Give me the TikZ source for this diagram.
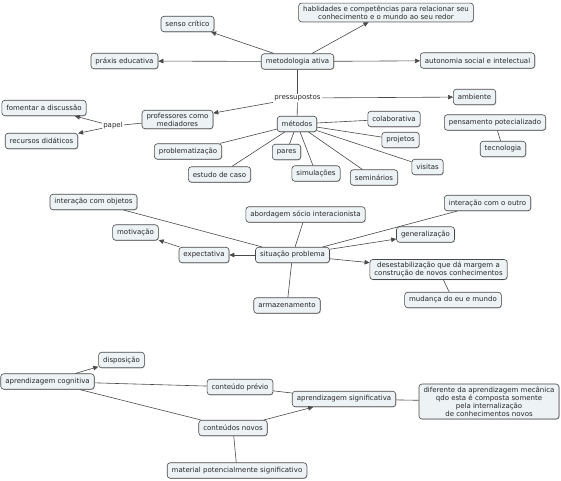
\documentclass[tikz,border=0pt]{standalone}
\usepackage{fontspec}
\setmainfont{DejaVu Sans}
\usepackage{tikz}
\usetikzlibrary{arrows.meta,shadows}
\definecolor{cmapFill}{HTML}{EDF2F4}
\definecolor{cmapLine}{HTML}{4A4A4A}
\definecolor{cmapText}{HTML}{262626}

\begin{document}
\begin{tikzpicture}[
  x=1pt,y=-1pt,
  concept/.style={draw=cmapLine,fill=cmapFill,rounded corners=3pt,line width=.6pt,
    font=\fontsize{7}{8.1}\selectfont,text=cmapText,align=center,
    inner xsep=4.5pt,inner ysep=2.5pt,minimum height=15.5pt,
    drop shadow={shadow xshift=.7pt,shadow yshift=-.7pt,opacity=.35,fill=black!60}},
  linkword/.style={font=\fontsize{7}{8.1}\selectfont,text=cmapText,inner sep=1pt},
  link/.style={draw=cmapLine,line width=.6pt},
  arrow/.style={link,-{Triangle[length=5pt,width=4.5pt]}}
]
  \useasboundingbox (0,0) rectangle (561,480);

  % metodologia ativa
  \node[concept] (meto) at (297.5,61.5) {metodologia ativa};
  \node[concept] (senso) at (187.5,24) {senso crítico};
  \node[concept] (habil) at (386,12.5) {hablidades e competências para relacionar seu\\conhecimento e o mundo ao seu redor};
  \node[concept] (praxis) at (124.5,61) {práxis educativa};
  \node[concept] (autonomia) at (477.5,60.5) {autonomia social e intelectual};
  \node[linkword] (press) at (297.5,98) {pressupostos};
  \node[concept] (ambiente) at (474.5,97) {ambiente};
  \node[concept] (prof) at (177.5,119.5) {professores como\\mediadores};
  \node[linkword] (papel) at (113,126) {papel};
  \node[concept] (fomentar) at (44,108) {fomentar a discussão};
  \node[concept] (recursos) at (41.5,141) {recursos didáticos};
  \node[concept] (metodos) at (297,124) {métodos};
  \node[concept] (problem) at (188,151.5) {problematização};
  \node[concept] (estudo) at (219.5,174.5) {estudo de caso};
  \node[concept] (pares) at (286.5,152) {pares};
  \node[concept] (simul) at (316,173.5) {simulações};
  \node[concept] (semin) at (374,177.5) {seminários};
  \node[concept] (visitas) at (427.5,167) {visitas};
  \node[concept] (projetos) at (400.5,140) {projetos};
  \node[concept] (colab) at (394,119) {colaborativa};
  \node[concept] (pensa) at (495,122.5) {pensamento potecializado};
  \node[concept] (tecno) at (503,149) {tecnologia};

  \draw[arrow] (meto) -- (senso);
  \draw[arrow] (meto) -- (habil);
  \draw[arrow] (meto) -- (praxis);
  \draw[arrow] (meto) -- (autonomia);
  \draw[link] (meto) -- (press);
  \draw[link] (press) -- (metodos);
  \draw[arrow] (press) -- (ambiente);
  \draw[arrow] (press) -- (prof);
  \draw[link] (prof) -- (papel);
  \draw[arrow] (papel) -- (fomentar);
  \draw[arrow] (papel) -- (recursos);
  \foreach \m in {problem,estudo,pares,simul,semin,visitas,projetos,colab}
    \draw[link] (metodos) -- (\m);
  \draw[link] (pensa) -- (tecno);

  % situacao problema
  \node[concept] (situ) at (292.5,255) {situação problema};
  \node[concept] (interobj) at (93.5,202) {interação com objetos};
  \node[concept] (motiv) at (135.5,232.5) {motivação};
  \node[concept] (expect) at (204,255) {expectativa};
  \node[concept] (abord) at (305.5,214.5) {abordagem sócio interacionista};
  \node[concept] (armaz) at (287,305.5) {armazenamento};
  \node[concept] (interoutro) at (487.5,203) {interação com o outro};
  \node[concept] (general) at (425.5,234.5) {generalização};
  \node[concept] (desest) at (438.5,269.5) {desestabilização que dá margem a\\construção de novos conhecimentos};
  \node[concept] (mudanca) at (453,300) {mudança do eu e mundo};

  \draw[arrow,line width=.9pt] (situ) -- (expect);
  \draw[arrow] (expect) -- (motiv);
  \draw[link] (situ) -- (interobj);
  \draw[link] (situ) -- (abord);
  \draw[link] (situ) -- (armaz);
  \draw[link] (situ) -- (interoutro);
  \draw[arrow] (situ) -- (general);
  \draw[arrow] (situ) -- (desest);
  \draw[link] (desest) -- (mudanca);

  % aprendizagem
  \node[concept] (aprcog) at (47.5,381.5) {aprendizagem cognitiva};
  \node[concept] (dispos) at (121.5,360) {disposição};
  \node[concept] (previo) at (240,387) {conteúdo prévio};
  \node[concept] (novos) at (233,428) {conteúdos novos};
  \node[concept] (material) at (237,470.5) {material potencialmente significativo};
  \node[concept] (aprsig) at (344,399) {aprendizagem significativa};
  \node[concept] (difer) at (489,401.5) {diferente da aprendizagem mecânica\\qdo esta é composta somente\\pela internalização\\de conhecimentos novos};

  \draw[arrow] (aprcog) -- (dispos);
  \draw[link] (aprcog) -- (previo);
  \draw[link] (aprcog) -- (novos);
  \draw[link] (previo) -- (aprsig);
  \draw[arrow] (novos) -- (aprsig);
  \draw[link] (novos) -- (material);
  \draw[link] (aprsig) -- (difer);
\end{tikzpicture}
\end{document}
